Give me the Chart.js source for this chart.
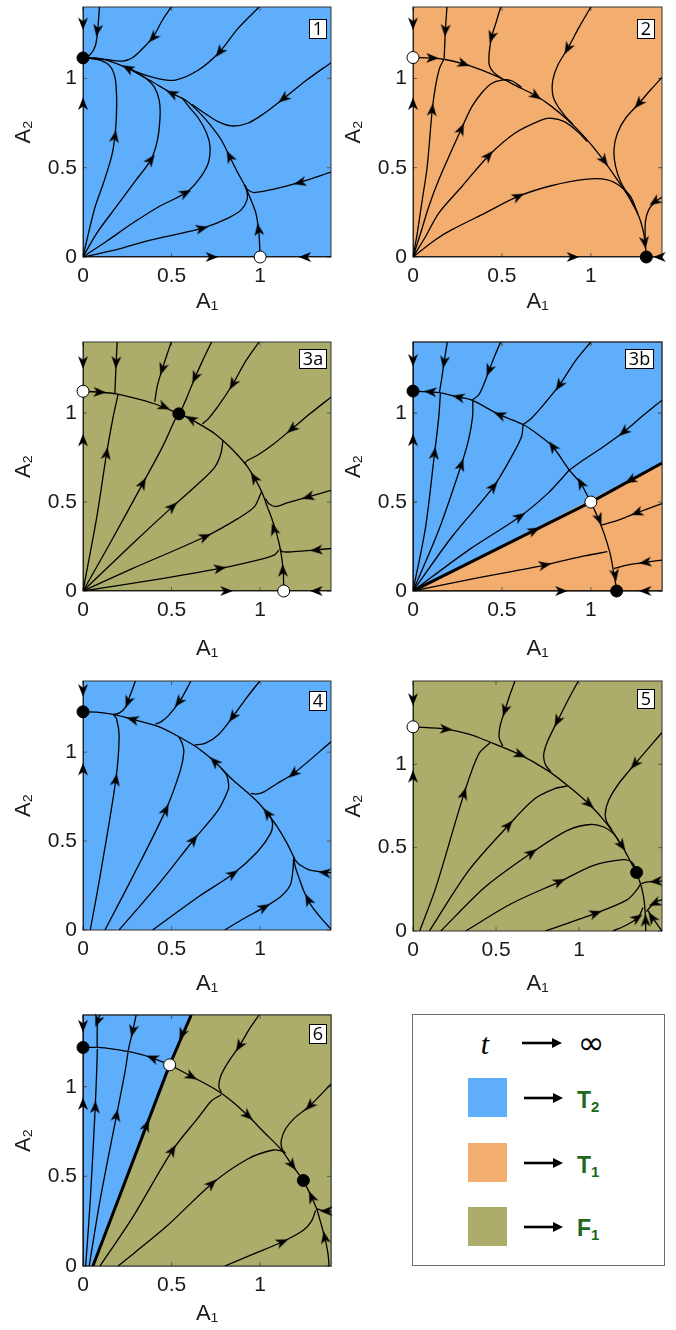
<!DOCTYPE html>
<html>
<head>
<meta charset="utf-8">
<script src="https://cdn.jsdelivr.net/npm/chart.js@4.4.1/dist/chart.umd.min.js"></script>
<style>
  body { margin: 0; background: #fff; }
  #page { position: relative; width: 676px; height: 1330px; overflow: hidden; }
  canvas.panel { position: absolute; }
  #key { position: absolute; left: 412px; top: 1014px; width: 253px; height: 252px;
         box-sizing: border-box; border: 1px solid #6e6e6e; background: #fff; }
  #key .sym { position: absolute; transform: translate(-50%, -50%); line-height: 1; color: #000; }
  #key .sw { position: absolute; left: 55px; width: 39px; height: 39px; }
  #key .lab { position: absolute; left: 164px; transform: translateY(-50%); line-height: 1;
              font: bold 23px "Liberation Sans", Arial, sans-serif; color: #1e6a20; }
  #key .lab sub { font-size: 15px; vertical-align: -4px; }
  #key svg { position: absolute; left: 0; top: 0; }
</style>
</head>
<body>
<div id="page">
  <canvas id="c1" class="panel"></canvas>
  <canvas id="c2" class="panel"></canvas>
  <canvas id="c3a" class="panel"></canvas>
  <canvas id="c3b" class="panel"></canvas>
  <canvas id="c4" class="panel"></canvas>
  <canvas id="c5" class="panel"></canvas>
  <canvas id="c6" class="panel"></canvas>

  <div id="key">
    <span class="sym" style="left:72px;top:29px;font:italic 30px 'Liberation Serif', serif;">t</span>
    <span class="sym" style="left:178px;top:28px;font:32px 'DejaVu Sans', sans-serif;">∞</span>
    <div class="sw" style="top:63px;background:#5faefc"></div>
    <div class="sw" style="top:128px;background:#f3ad6f"></div>
    <div class="sw" style="top:192px;background:#adad6b"></div>
    <span class="lab" style="top:86px">T<sub>2</sub></span>
    <span class="lab" style="top:151px">T<sub>1</sub></span>
    <span class="lab" style="top:214px">F<sub>1</sub></span>
    <svg width="251" height="250">
      <g stroke="#000" stroke-width="2.6">
        <line x1="109" y1="28" x2="141" y2="28"/>
        <line x1="111" y1="83" x2="142" y2="83"/>
        <line x1="111" y1="148" x2="142" y2="148"/>
        <line x1="111" y1="212" x2="142" y2="212"/>
      </g>
      <g fill="#000">
        <polygon points="139,23 149,28 139,33"/>
        <polygon points="140,78 150,83 140,88"/>
        <polygon points="140,143 150,148 140,153"/>
        <polygon points="140,207 150,212 140,217"/>
      </g>
    </svg>
  </div>
</div>

<script>
// Tick values shared by every panel
const tickValues = [0, 0.5, 1];

// ---------- Panel 1 ----------
const p1Stable = [[0, 1.115]];
const p1Unstable = [[1, 0]];
const p1Trajectories = [
  [[0, 0], [0, 1.115]],
  [[0, 1.4], [0, 1.115]],
  [[0, 0], [1, 0]],
  [[1.4, 0], [1, 0]],
  [[1, 0], [0.993, 0.134], [0.976, 0.246], [0.948, 0.32], [0.911, 0.404], [0.865, 0.488], [0.828, 0.562], [0.781, 0.655], [0.726, 0.73], [0.652, 0.814], [0.578, 0.879], [0.504, 0.915], [0.374, 0.991], [0.254, 1.056], [0.133, 1.102], [0.059, 1.115], [0, 1.115]],
  [[0.093, 1.4], [0.083, 1.27], [0.069, 1.18], [0.037, 1.13], [0, 1.115]],
  [[0.498, 1.4], [0.448, 1.326], [0.396, 1.233], [0.337, 1.168], [0.281, 1.117], [0.226, 1.097], [0.133, 1.106], [0.06, 1.115]],
  [[0.994, 1.4], [0.874, 1.279], [0.772, 1.149], [0.652, 1.047], [0.522, 0.991], [0.43, 0.998], [0.32, 1.03], [0.24, 1.065]],
  [[1.4, 1.088], [1.263, 0.991], [1.133, 0.888], [1.022, 0.804], [0.93, 0.749], [0.837, 0.734], [0.763, 0.758], [0.689, 0.804], [0.615, 0.855]],
  [[1.4, 0.475], [1.226, 0.419], [1.078, 0.38], [0.967, 0.361], [0.93, 0.376], [0.911, 0.404]],
  [[0, 0], [0.189, 0.041], [0.374, 0.093], [0.559, 0.134], [0.689, 0.166], [0.819, 0.218], [0.893, 0.264], [0.926, 0.32], [0.926, 0.367], [0.915, 0.404]],
  [[0, 0], [0.133, 0.088], [0.281, 0.19], [0.43, 0.283], [0.578, 0.358], [0.652, 0.432], [0.707, 0.525], [0.717, 0.618], [0.698, 0.693], [0.652, 0.777], [0.606, 0.832], [0.56, 0.89]],
  [[0, 0], [0.078, 0.134], [0.189, 0.283], [0.3, 0.432], [0.383, 0.544], [0.42, 0.655], [0.435, 0.786], [0.43, 0.879], [0.402, 0.953], [0.356, 1.0], [0.281, 1.045]],
  [[0, 0], [0.031, 0.134], [0.069, 0.283], [0.115, 0.413], [0.161, 0.562], [0.18, 0.674], [0.189, 0.804], [0.189, 0.916], [0.18, 1.009], [0.152, 1.069], [0.096, 1.102], [0.022, 1.115]]
];
const p1Arrows = [[0, 1.307], [0.081, 1.27], [0.396, 1.229], [0.772, 1.149], [1.133, 0.888], [1.226, 0.417], [0.67, 0.16], [0.578, 0.358], [0.383, 0.544], [0.18, 0.674], [0, 0.857], [0.726, 0], [1.254, 0], [0.991, 0.153], [0.828, 0.562], [0.504, 0.915], [0.254, 1.056]];

// ---------- Panel 2 ----------
const p2Stable = [[1.312, 0]];
const p2Unstable = [[0, 1.117]];
const p2Trajectories = [
  [[0, 0], [0, 1.117]],
  [[0, 1.4], [0, 1.117]],
  [[0, 0], [1.312, 0]],
  [[1.4, 0], [1.312, 0]],
  [[0, 1.117], [0.108, 1.114], [0.182, 1.106], [0.275, 1.084], [0.387, 1.047], [0.498, 1.0], [0.591, 0.953], [0.684, 0.907], [0.777, 0.845], [0.87, 0.767], [0.963, 0.674], [1.056, 0.562], [1.149, 0.432], [1.223, 0.32], [1.27, 0.227], [1.297, 0.134], [1.307, 0.06], [1.312, 0]],
  [[0.191, 1.4], [0.182, 1.27], [0.178, 1.177], [0.175, 1.112]],
  [[0.493, 1.4], [0.465, 1.307], [0.442, 1.233], [0.428, 1.14], [0.429, 1.074], [0.452, 1.035], [0.498, 1.0]],
  [[1.0, 1.4], [0.935, 1.289], [0.87, 1.168], [0.814, 1.074], [0.786, 0.991], [0.786, 0.907], [0.81, 0.851], [0.851, 0.795], [0.9, 0.74]],
  [[1.4, 1.006], [1.335, 0.935], [1.27, 0.86], [1.195, 0.777], [1.149, 0.693], [1.13, 0.6], [1.139, 0.507], [1.167, 0.423], [1.214, 0.339], [1.25, 0.27]],
  [[1.4, 0.335], [1.359, 0.307], [1.325, 0.264], [1.307, 0.199], [1.305, 0.1]],
  [[0, 0], [0.126, 0.097], [0.219, 0.153], [0.405, 0.246], [0.591, 0.339], [0.777, 0.399], [0.981, 0.436], [1.093, 0.432], [1.167, 0.395], [1.223, 0.339], [1.265, 0.24]],
  [[0, 0], [0.071, 0.115], [0.145, 0.246], [0.275, 0.395], [0.424, 0.566], [0.572, 0.693], [0.721, 0.767], [0.777, 0.777], [0.851, 0.758], [0.926, 0.702], [0.981, 0.646]],
  [[0, 0], [0.043, 0.134], [0.089, 0.283], [0.145, 0.432], [0.21, 0.581], [0.271, 0.715], [0.331, 0.842], [0.387, 0.92], [0.442, 0.972], [0.498, 0.991], [0.554, 0.987], [0.61, 0.95]],
  [[0, 0], [0.024, 0.134], [0.052, 0.32], [0.08, 0.507], [0.108, 0.823], [0.126, 0.953], [0.149, 1.056], [0.173, 1.106]]
];
const p2Arrows = [[0, 1.307], [0.182, 1.27], [0.442, 1.233], [0.87, 1.168], [1.27, 0.86], [1.36, 0.31], [0.591, 0.339], [0.424, 0.566], [0.271, 0.715], [0.108, 0.823], [0, 0.857], [0.108, 1.114], [0.284, 1.082], [0.69, 0.903], [1.074, 0.54], [1.303, 0.082], [0.898, 0], [1.387, 0]];

// ---------- Panel 3a ----------
const p3aStable = [[0.541, 0.996]];
const p3aUnstable = [[0, 1.123], [1.133, 0]];
const p3aTrajectories = [
  [[0, 0], [0, 1.123]],
  [[0, 1.4], [0, 1.123]],
  [[0, 0], [1.133, 0]],
  [[1.4, 0], [1.133, 0]],
  [[0, 1.123], [0.096, 1.118], [0.189, 1.108], [0.319, 1.077], [0.43, 1.043], [0.541, 0.996]],
  [[1.133, 0], [1.13, 0.118], [1.115, 0.23], [1.093, 0.323], [1.069, 0.398], [1.041, 0.473], [1.013, 0.548], [0.976, 0.622], [0.93, 0.697], [0.874, 0.763], [0.819, 0.819], [0.744, 0.884], [0.67, 0.931], [0.606, 0.968], [0.541, 0.996]],
  [[0.193, 1.4], [0.187, 1.286], [0.183, 1.183], [0.18, 1.112]],
  [[0.498, 1.4], [0.472, 1.323], [0.448, 1.249], [0.42, 1.155], [0.405, 1.065]],
  [[0.726, 1.4], [0.68, 1.305], [0.633, 1.202], [0.587, 1.09], [0.55, 1.006]],
  [[0.994, 1.4], [0.92, 1.295], [0.846, 1.164], [0.772, 1.052], [0.707, 0.968], [0.674, 0.94]],
  [[1.4, 1.09], [1.281, 0.996], [1.18, 0.912], [1.078, 0.828], [0.985, 0.763], [0.93, 0.735], [0.91, 0.715]],
  [[1.4, 0.566], [1.272, 0.529], [1.152, 0.495], [1.087, 0.475], [1.05, 0.49], [1.03, 0.52]],
  [[1.4, 0.239], [1.309, 0.23], [1.189, 0.221], [1.124, 0.221], [1.111, 0.239]],
  [[0, 0], [0.374, 0.058], [0.772, 0.127], [0.985, 0.174], [1.078, 0.202], [1.106, 0.23]],
  [[0, 0], [0.281, 0.127], [0.689, 0.305], [0.874, 0.407], [0.967, 0.473], [1.0, 0.54], [1.01, 0.56]],
  [[0, 0], [0.281, 0.267], [0.504, 0.473], [0.652, 0.604], [0.744, 0.697], [0.778, 0.772], [0.79, 0.845]],
  [[0, 0], [0.152, 0.267], [0.337, 0.604], [0.448, 0.809], [0.522, 0.968], [0.541, 0.996]],
  [[0, 0], [0.078, 0.417], [0.133, 0.772], [0.17, 0.978], [0.198, 1.105]]
];
const p3aArrows = [[0, 1.286], [0.187, 1.286], [0.448, 1.249], [0.633, 1.202], [0.846, 1.164], [1.18, 0.912], [1.272, 0.529], [1.319, 0.23], [0.772, 0.127], [0.689, 0.305], [0.504, 0.473], [0.337, 0.604], [0.133, 0.772], [0, 0.847], [0.093, 1.118], [0.457, 1.036], [0.611, 0.966], [0.967, 0.635], [1.078, 0.346], [1.128, 0.114], [0.809, 0], [1.319, 0]];

// ---------- Panel 3b ----------
const p3bStable = [[0, 1.124], [1.145, 0]];
const p3bUnstable = [[1, 0.5]];
const p3bSeparatrix = [
  [[0, 0], [1, 0.5]],
  [[1.4, 0.72], [1, 0.5]]
];
const p3bRegion = [[0, 0], [1.4, 0.72]];
const p3bTrajectories = [
  [[0, 0], [0, 1.124]],
  [[0, 1.4], [0, 1.124]],
  [[0, 0], [1.145, 0]],
  [[1.4, 0], [1.145, 0]],
  [[1, 0.5], [0.968, 0.56], [0.944, 0.605], [0.879, 0.68], [0.786, 0.811], [0.703, 0.88], [0.619, 0.936], [0.489, 0.99], [0.331, 1.073], [0.257, 1.09], [0.149, 1.115], [0.099, 1.12], [0, 1.124]],
  [[1, 0.5], [1.037, 0.418], [1.074, 0.324], [1.108, 0.212], [1.126, 0.118], [1.139, 0.043], [1.145, 0]],
  [[0.193, 1.4], [0.175, 1.288], [0.16, 1.185], [0.149, 1.118]],
  [[0.493, 1.4], [0.461, 1.326], [0.428, 1.242], [0.396, 1.157], [0.368, 1.101], [0.331, 1.073]],
  [[1.0, 1.4], [0.916, 1.298], [0.823, 1.157], [0.74, 1.054], [0.665, 0.97], [0.619, 0.936]],
  [[1.4, 1.073], [1.297, 0.989], [1.186, 0.895], [1.056, 0.801], [0.944, 0.727], [0.879, 0.68]],
  [[0, 0], [0.312, 0.23], [0.6, 0.418], [0.758, 0.549], [0.879, 0.68]],
  [[0, 0], [0.219, 0.305], [0.452, 0.586], [0.554, 0.755], [0.61, 0.867], [0.619, 0.936]],
  [[0, 0], [0.145, 0.343], [0.271, 0.708], [0.312, 0.848], [0.335, 0.979], [0.336, 1.069]],
  [[0, 0], [0.071, 0.361], [0.121, 0.773], [0.145, 0.979], [0.154, 1.11]],
  [[0, 0], [0.349, 0.071], [0.74, 0.146], [0.963, 0.197], [1.093, 0.221]],
  [[1.4, 0.492], [1.26, 0.44], [1.167, 0.403], [1.06, 0.37]],
  [[1.4, 0.174], [1.307, 0.161], [1.204, 0.146], [1.13, 0.127]]
];
const p3bArrows = [[0, 1.298], [0.175, 1.288], [0.428, 1.242], [0.823, 1.157], [1.186, 0.895], [0.6, 0.418], [0.452, 0.586], [0.271, 0.708], [0.121, 0.773], [0, 0.848], [0.099, 1.12], [0.257, 1.09], [0.489, 0.99], [0.786, 0.811], [0.944, 0.605], [1.046, 0.405], [1.136, 0.09], [0.68, 0.34], [1.223, 0.623], [0.74, 0.146], [1.26, 0.44], [1.307, 0.161], [0.833, 0], [1.307, 0]];

// ---------- Panel 4 ----------
const p4Stable = [[0, 1.227]];
const p4Unstable = [];
const p4Trajectories = [
  [[0, 0], [0, 1.227]],
  [[0, 1.4], [0, 1.227]],
  [[1.189, 0.412], [1.152, 0.487], [1.096, 0.581], [1.041, 0.655], [0.985, 0.721], [0.93, 0.772], [0.837, 0.852], [0.744, 0.946], [0.652, 1.021], [0.559, 1.077], [0.43, 1.142], [0.281, 1.184], [0.17, 1.212], [0.078, 1.225], [0, 1.227]],
  [[1.4, 0.005], [1.337, 0.075], [1.281, 0.15], [1.244, 0.225], [1.217, 0.3], [1.198, 0.356], [1.189, 0.412]],
  [[1.4, 0.322], [1.281, 0.337], [1.226, 0.365], [1.198, 0.393], [1.189, 0.412]],
  [[0.8, 0], [0.911, 0.066], [1.022, 0.127], [1.115, 0.187], [1.17, 0.253], [1.185, 0.337], [1.189, 0.403]],
  [[0.393, 0], [0.652, 0.187], [0.846, 0.315], [0.985, 0.44], [1.059, 0.543], [1.07, 0.6], [1.055, 0.645]],
  [[0.204, 0], [0.43, 0.262], [0.624, 0.506], [0.763, 0.674], [0.819, 0.787], [0.822, 0.82], [0.811, 0.87], [0.78, 0.91]],
  [[0.124, 0], [0.281, 0.3], [0.467, 0.674], [0.55, 0.899], [0.569, 1.0], [0.56, 1.05], [0.54, 1.085]],
  [[0.041, 0], [0.096, 0.3], [0.185, 0.843], [0.204, 1.086], [0.189, 1.189], [0.17, 1.212]],
  [[0.296, 1.4], [0.263, 1.311], [0.241, 1.255], [0.207, 1.221], [0.17, 1.212]],
  [[0.609, 1.4], [0.55, 1.292], [0.485, 1.208], [0.44, 1.17], [0.41, 1.158]],
  [[0.998, 1.4], [0.92, 1.301], [0.846, 1.199], [0.763, 1.096], [0.689, 1.049], [0.63, 1.04]],
  [[1.4, 1.058], [1.189, 0.88], [1.096, 0.824], [1.022, 0.777], [0.976, 0.764], [0.948, 0.768]]
];
const p4Arrows = [[0, 1.348], [0.254, 1.283], [0.541, 1.283], [0.846, 1.199], [1.189, 0.88], [1.365, 0.322], [1.272, 0.169], [1.022, 0.127], [0.846, 0.315], [0.624, 0.506], [0.467, 0.674], [0.185, 0.843], [0, 0.903], [0.281, 1.184], [0.744, 0.946], [1.041, 0.655]];

// ---------- Panel 5 ----------
const p5Stable = [[1.347, 0.351]];
const p5Unstable = [[0, 1.225]];
const p5Trajectories = [
  [[0, 0], [0, 1.225]],
  [[0, 1.5], [0, 1.225]],
  [[0, 1.225], [0.198, 1.211], [0.337, 1.181], [0.455, 1.137], [0.644, 1.058], [0.812, 0.962], [0.931, 0.873], [1.059, 0.763], [1.168, 0.643], [1.257, 0.514], [1.317, 0.404], [1.347, 0.351]],
  [[0.614, 1.5], [0.578, 1.4], [0.554, 1.325], [0.525, 1.231], [0.519, 1.161], [0.54, 1.11]],
  [[0.996, 1.5], [0.931, 1.38], [0.871, 1.261], [0.812, 1.141], [0.788, 1.062], [0.796, 1.002], [0.832, 0.952]],
  [[1.5, 1.191], [1.337, 1.002], [1.238, 0.882], [1.178, 0.783], [1.158, 0.703], [1.168, 0.653], [1.198, 0.608]],
  [[0.04, 0], [0.139, 0.265], [0.307, 0.823], [0.396, 1.062], [0.465, 1.131]],
  [[0.099, 0], [0.337, 0.365], [0.574, 0.633], [0.733, 0.793], [0.851, 0.853], [0.93, 0.87]],
  [[0.168, 0], [0.436, 0.265], [0.713, 0.468], [0.931, 0.604], [1.069, 0.639], [1.149, 0.624], [1.208, 0.584], [1.248, 0.524]],
  [[0.317, 0], [0.594, 0.165], [0.881, 0.295], [1.089, 0.394], [1.267, 0.428], [1.317, 0.414], [1.347, 0.365]],
  [[0.796, 0], [1.099, 0.106], [1.287, 0.185], [1.347, 0.245], [1.37, 0.28]],
  [[1.204, 0], [1.287, 0.036], [1.356, 0.082], [1.386, 0.141]],
  [[1.402, 0], [1.4, 0.086], [1.392, 0.185], [1.376, 0.265], [1.356, 0.325], [1.347, 0.351]],
  [[1.5, 0.299], [1.406, 0.293], [1.376, 0.285]],
  [[1.5, 0.189], [1.455, 0.169], [1.426, 0.141], [1.406, 0.116]],
  [[1.5, 0], [1.446, 0.076], [1.416, 0.122]]
];
const p5Arrows = [[0, 1.39], [0.554, 1.325], [0.871, 1.261], [1.337, 1.002], [0.307, 0.823], [0.574, 0.633], [0.713, 0.468], [0.881, 0.295], [1.099, 0.106], [0, 0.926], [0.198, 1.211], [0.644, 1.058], [1.059, 0.763], [1.257, 0.514], [1.465, 0.298], [1.457, 0.167], [1.44, 0.08], [1.401, 0.062], [1.35, 0.078]];

// ---------- Panel 6 ----------
const p6Stable = [[0, 1.219], [1.244, 0.477]];
const p6Unstable = [[0.489, 1.122]];
const p6Separatrix = [
  [[0.056, 0], [0.489, 1.122]],
  [[0.611, 1.4], [0.489, 1.122]]
];
const p6Region = [[0.056, 0], [0.611, 1.4], [1.4, 1.4]];
const p6Trajectories = [
  [[0, 0], [0, 1.219]],
  [[0, 1.4], [0, 1.219]],
  [[0.489, 1.122], [0.393, 1.16], [0.281, 1.191], [0.17, 1.21], [0.078, 1.219], [0, 1.219]],
  [[0.489, 1.122], [0.606, 1.061], [0.744, 0.987], [0.837, 0.922], [0.93, 0.839], [1.022, 0.746], [1.115, 0.653], [1.18, 0.564], [1.244, 0.477]],
  [[0.096, 1.4], [0.083, 1.367], [0.08, 1.293], [0.08, 1.219]],
  [[0.3, 1.4], [0.281, 1.312], [0.263, 1.237], [0.254, 1.197]],
  [[0.015, 0], [0.041, 0.365], [0.069, 0.885], [0.078, 1.108], [0.081, 1.21]],
  [[0.035, 0], [0.096, 0.365], [0.189, 0.839], [0.235, 1.071], [0.254, 1.191]],
  [[0.994, 1.4], [0.939, 1.321], [0.883, 1.228], [0.819, 1.136], [0.778, 1.061], [0.767, 1.0], [0.781, 0.968]],
  [[1.4, 1.015], [1.281, 0.894], [1.198, 0.829], [1.143, 0.764], [1.119, 0.699], [1.124, 0.653], [1.143, 0.629]],
  [[0.096, 0], [0.281, 0.273], [0.504, 0.644], [0.652, 0.829], [0.726, 0.922], [0.781, 0.955]],
  [[0.198, 0], [0.467, 0.217], [0.726, 0.458], [0.93, 0.597], [1.074, 0.647], [1.13, 0.64]],
  [[0.8, 0], [0.967, 0.069], [1.124, 0.134], [1.244, 0.199], [1.29, 0.25], [1.313, 0.31]],
  [[1.389, 0], [1.383, 0.069], [1.365, 0.158], [1.341, 0.245], [1.319, 0.319], [1.291, 0.384], [1.263, 0.44], [1.244, 0.477]],
  [[1.4, 0.306], [1.374, 0.306], [1.337, 0.314], [1.319, 0.319]]
];
const p6Arrows = [[0, 1.339], [0.083, 1.367], [0.281, 1.312], [0.559, 1.293], [0.883, 1.228], [1.281, 0.894], [0, 0.904], [0.069, 0.885], [0.189, 0.839], [0.358, 0.783], [0.504, 0.644], [0.726, 0.458], [1.124, 0.134], [0.393, 1.16], [0.611, 1.058], [0.93, 0.839], [1.18, 0.564], [1.291, 0.384], [1.365, 0.158], [1.374, 0.306]];

// colours of the basins
const blue = '#5faefc';
const orange = '#f3ad6f';
const olive = '#adad6b';

// panel layout: canvas position, plot size, axis height
const panels = [
  { id: 'c1', left: 0, top: 0, w: 251, h: 251, axisH: 58, max: 1.4, base: blue, tag: '1', tagTop: 12, tagRight: 4.5,
    traj: p1Trajectories, arrows: p1Arrows, stable: p1Stable, unstable: p1Unstable },
  { id: 'c2', left: 330, top: 0, w: 252, h: 251, axisH: 58, max: 1.4, base: orange, tag: '2', tagTop: 12, tagRight: 7,
    traj: p2Trajectories, arrows: p2Arrows, stable: p2Stable, unstable: p2Unstable },
  { id: 'c3a', left: 0, top: 335, w: 251, h: 250, axisH: 71, max: 1.4, base: olive, tag: '3a', tagTop: 7, tagRight: 4.5,
    traj: p3aTrajectories, arrows: p3aArrows, stable: p3aStable, unstable: p3aUnstable },
  { id: 'c3b', left: 330, top: 335, w: 252, h: 250, axisH: 71, max: 1.4, base: blue, tag: '3b', tagTop: 7, tagRight: 8,
    traj: p3bTrajectories, thick: p3bSeparatrix, region: p3bRegion, regionColor: orange,
    arrows: p3bArrows, stable: p3bStable, unstable: p3bUnstable },
  { id: 'c4', left: 0, top: 674, w: 251, h: 250, axisH: 67, max: 1.4, base: blue, tag: '4', tagTop: 10, tagRight: 4.5,
    traj: p4Trajectories, arrows: p4Arrows, stable: p4Stable, unstable: p4Unstable },
  { id: 'c5', left: 330, top: 674, w: 252, h: 251, axisH: 66, max: 1.5, base: olive, tag: '5', tagTop: 8, tagRight: 7,
    traj: p5Trajectories, arrows: p5Arrows, stable: p5Stable, unstable: p5Unstable },
  { id: 'c6', left: 0, top: 1008, w: 251, h: 252, axisH: 61, max: 1.4, base: blue, tag: '6', tagTop: 9, tagRight: 4.5,
    traj: p6Trajectories, thick: p6Separatrix, region: p6Region, regionColor: olive,
    arrows: p6Arrows, stable: p6Stable, unstable: p6Unstable }
];

// Arrowhead image (pointing up), rotated per point by Chart.js
function makeArrowHead() {
  const c = document.createElement('canvas');
  c.width = 16;
  c.height = 16;
  const g = c.getContext('2d');
  g.fillStyle = '#000';
  g.beginPath();
  g.moveTo(8, 1.5);
  g.lineTo(13, 14);
  g.lineTo(8, 10.5);
  g.lineTo(3, 14);
  g.closePath();
  g.fill();
  return c;
}
const arrowHead = makeArrowHead();

// heading (degrees, clockwise from up) of the nearest trajectory segment
function headingAt(pt, trajs) {
  let best = Infinity;
  let dir = [1, 0];
  trajs.forEach(tr => {
    for (let i = 0; i < tr.length - 1; i++) {
      const dx = tr[i + 1][0] - tr[i][0];
      const dy = tr[i + 1][1] - tr[i][1];
      const len2 = dx * dx + dy * dy;
      if (len2 === 0) continue;
      let t = ((pt[0] - tr[i][0]) * dx + (pt[1] - tr[i][1]) * dy) / len2;
      t = Math.max(0, Math.min(1, t));
      const d = Math.hypot(pt[0] - tr[i][0] - t * dx, pt[1] - tr[i][1] - t * dy);
      if (d < best - 1e-9) {
        best = d;
        dir = [dx, dy];
      }
    }
  });
  return Math.atan2(dir[0], dir[1]) * 180 / Math.PI;
}

const toXY = arr => arr.map(p => ({ x: p[0], y: p[1] }));

function drawFrame(chart) {
  const a = chart.chartArea;
  const ctx = chart.ctx;
  const xs = chart.scales.x;
  const ys = chart.scales.y;
  ctx.save();
  ctx.strokeStyle = '#5a5a5a';
  ctx.lineWidth = 1;
  ctx.beginPath();
  xs.ticks.forEach(t => {
    const px = xs.getPixelForValue(t.value);
    ctx.moveTo(px, a.bottom);
    ctx.lineTo(px, a.bottom - 4);
    ctx.moveTo(px, a.top);
    ctx.lineTo(px, a.top + 4);
  });
  ys.ticks.forEach(t => {
    const py = ys.getPixelForValue(t.value);
    ctx.moveTo(a.left, py);
    ctx.lineTo(a.left + 4, py);
    ctx.moveTo(a.right, py);
    ctx.lineTo(a.right - 4, py);
  });
  ctx.stroke();
  ctx.strokeStyle = '#333';
  ctx.strokeRect(a.left, a.top, a.right - a.left, a.bottom - a.top);
  ctx.restore();
}

const panelDecor = {
  id: 'panelDecor',
  beforeDatasetsDraw(chart, args, opts) {
    const a = chart.chartArea;
    const ctx = chart.ctx;
    ctx.save();
    ctx.fillStyle = opts.base;
    ctx.fillRect(a.left, a.top, a.right - a.left, a.bottom - a.top);
    ctx.restore();
    drawFrame(chart);
  },
  afterDatasetDraw(chart, args) {
    if (chart.data.datasets[args.index].isRegion) drawFrame(chart);
  },
  afterDraw(chart, args, opts) {
    const a = chart.chartArea;
    const ctx = chart.ctx;
    ctx.save();
    ctx.font = '18px "Open Sans", sans-serif';
    const bw = Math.round(ctx.measureText(opts.tag).width + 8);
    const bh = 20;
    const bx = Math.round(a.right - opts.tagRight - bw);
    const by = Math.round(a.top + opts.tagTop);
    ctx.fillStyle = '#fff';
    ctx.fillRect(bx, by, bw, bh);
    ctx.strokeStyle = '#000';
    ctx.lineWidth = 1;
    ctx.strokeRect(bx + 0.5, by + 0.5, bw - 1, bh - 1);
    ctx.fillStyle = '#000';
    ctx.textAlign = 'center';
    ctx.textBaseline = 'middle';
    ctx.fillText(opts.tag, bx + bw / 2, by + bh / 2 + 1);
    ctx.restore();
  }
};

function buildPanel(p) {
  const canvas = document.getElementById(p.id);
  canvas.width = 83 + p.w + 4;
  canvas.height = 6 + p.h + p.axisH;
  canvas.style.left = p.left + 'px';
  canvas.style.top = p.top + 'px';

  const allTraj = p.traj.concat(p.thick || []);
  const datasets = [];

  datasets.push({
    data: toXY(p.stable), showLine: false, pointRadius: 6, pointBorderWidth: 1,
    pointBackgroundColor: '#000', pointBorderColor: '#000', clip: false, order: 0
  });
  datasets.push({
    data: toXY(p.unstable), showLine: false, pointRadius: 6, pointBorderWidth: 1,
    pointBackgroundColor: '#fff', pointBorderColor: '#000', clip: false, order: 0
  });
  datasets.push({
    data: toXY(p.arrows), showLine: false, pointStyle: arrowHead, pointRadius: 5,
    pointRotation: p.arrows.map(a => headingAt(a, allTraj)), clip: false, order: 1
  });
  p.traj.forEach(t => {
    datasets.push({
      data: toXY(t), borderColor: '#000', borderWidth: 1.3, pointRadius: 0,
      tension: 0.3, fill: false, order: 2
    });
  });
  (p.thick || []).forEach(t => {
    datasets.push({
      data: toXY(t), borderColor: '#000', borderWidth: 3, pointRadius: 0,
      tension: 0, fill: false, order: 2
    });
  });
  if (p.region) {
    datasets.push({
      data: toXY(p.region), isRegion: true, borderWidth: 0, pointRadius: 0, tension: 0,
      fill: 'start', backgroundColor: p.regionColor, order: 3
    });
  }

  const tickFont = { family: '"Liberation Sans", Arial, sans-serif', size: 21 };
  const titleFont = { family: '"Liberation Sans", Arial, sans-serif', size: 22 };

  new Chart(canvas, {
    type: 'line',
    data: { datasets },
    plugins: [panelDecor],
    options: {
      responsive: false,
      animation: false,
      devicePixelRatio: 1,
      events: [],
      layout: { padding: { top: 6, right: 4, left: 0, bottom: 0 } },
      plugins: {
        legend: { display: false },
        tooltip: { enabled: false },
        panelDecor: { base: p.base, tag: p.tag, tagTop: p.tagTop, tagRight: p.tagRight }
      },
      scales: {
        x: {
          type: 'linear', min: 0, max: p.max,
          afterBuildTicks: s => { s.ticks = tickValues.map(v => ({ value: v })); },
          afterFit: s => { s.height = p.axisH; s.paddingLeft = 0; s.paddingRight = 0; },
          grid: { display: false, drawTicks: false },
          border: { display: false },
          ticks: { font: tickFont, color: '#1a1a1a', padding: 7, maxRotation: 0, autoSkip: false,
                   callback: v => String(v) },
          title: { display: true, text: 'A₁', font: titleFont, color: '#1a1a1a', padding: 0 }
        },
        y: {
          type: 'linear', min: 0, max: p.max,
          afterBuildTicks: s => { s.ticks = tickValues.map(v => ({ value: v })); },
          afterFit: s => { s.width = 83; s.paddingTop = 0; s.paddingBottom = 0; },
          grid: { display: false, drawTicks: false },
          border: { display: false },
          ticks: { font: tickFont, color: '#1a1a1a', padding: 6, autoSkip: false,
                   callback: v => String(v) },
          title: { display: true, text: 'A₂', font: titleFont, color: '#1a1a1a', padding: { top: 11, bottom: 0 } }
        }
      }
    }
  });
}

panels.forEach(buildPanel);
</script>
</body>
</html>
